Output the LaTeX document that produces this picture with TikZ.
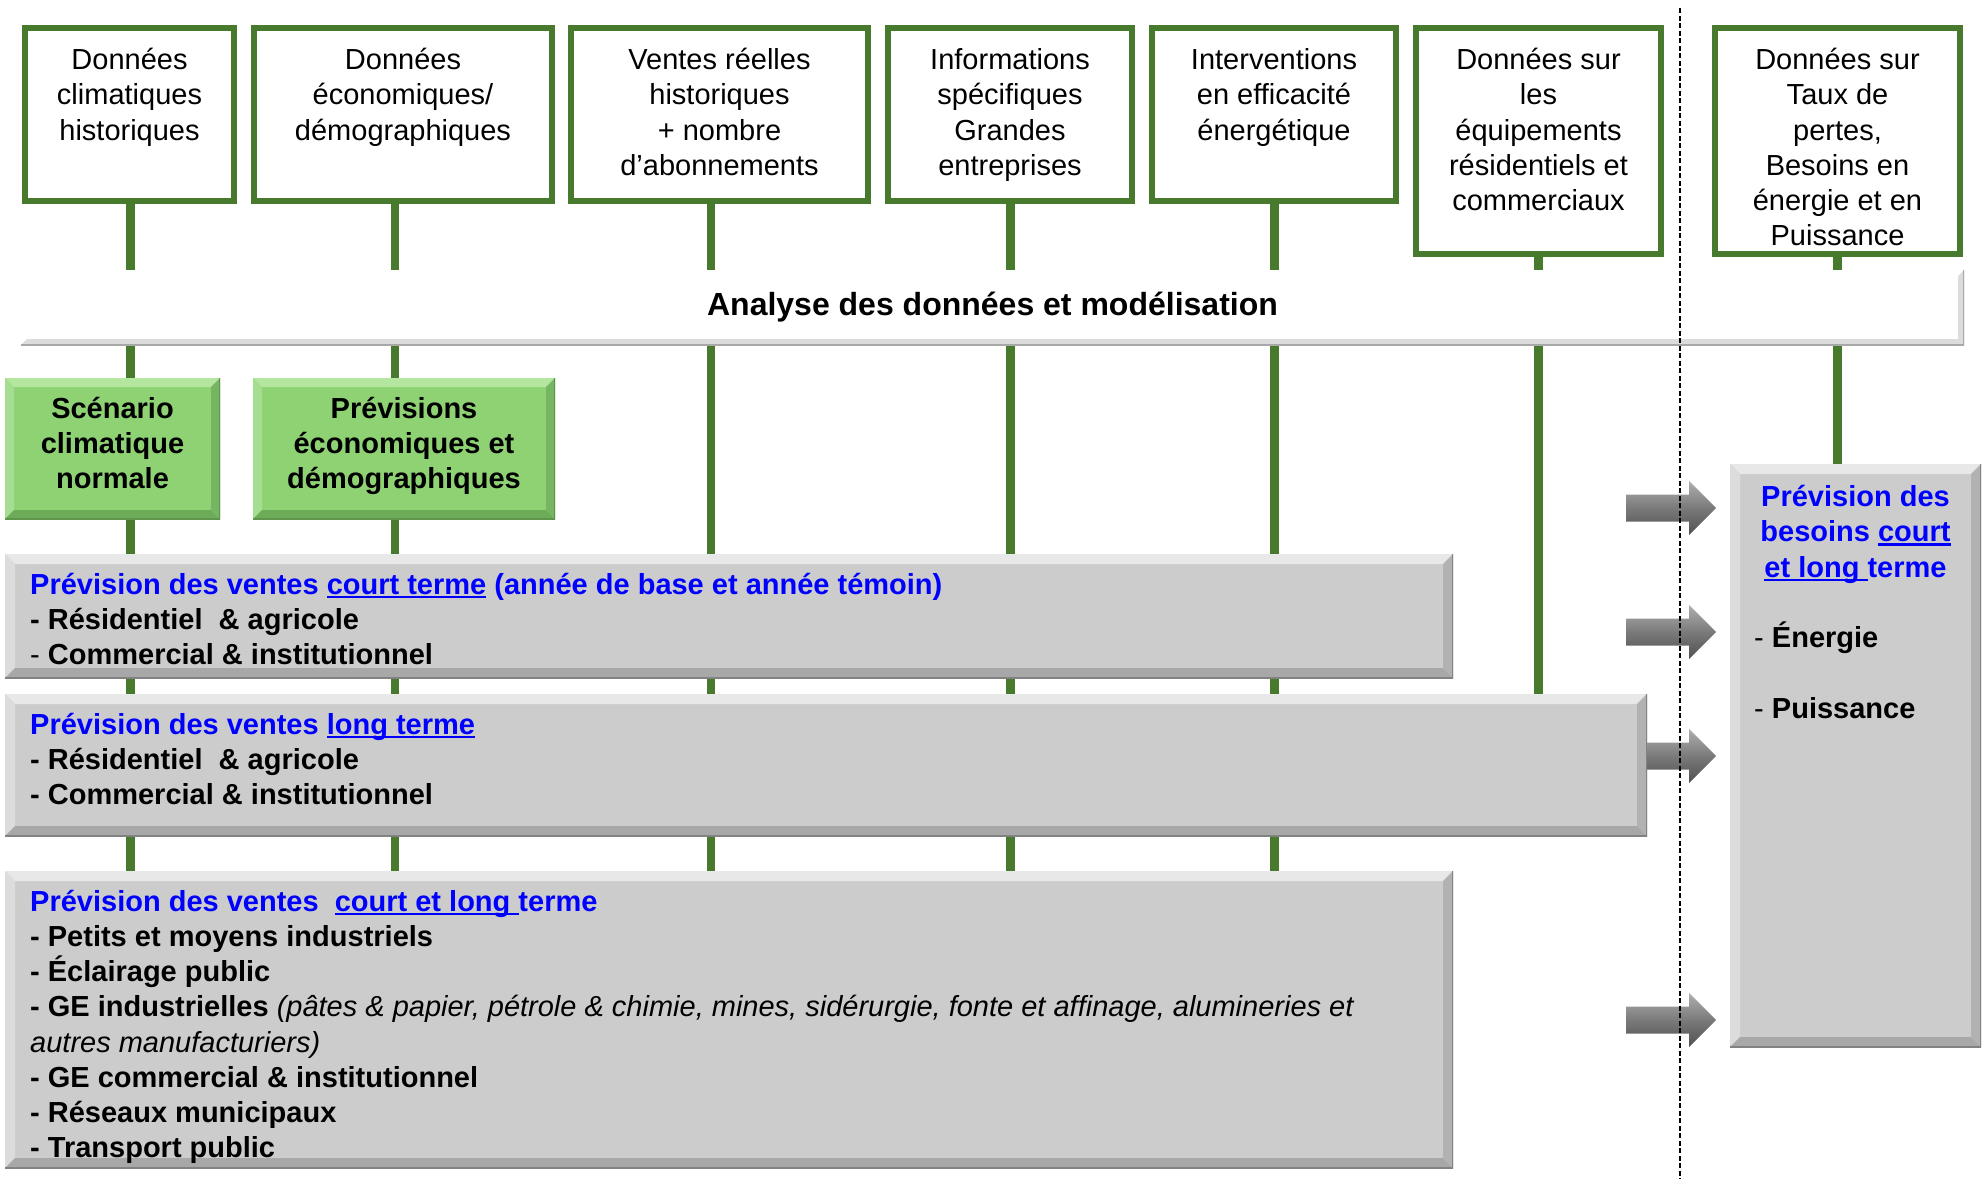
\documentclass[tikz,border=0pt]{standalone}
\usepackage{fontspec}
\setmainfont{Liberation Sans}
\usetikzlibrary{calc,backgrounds}
\definecolor{dgreen}{RGB}{72,122,46}
\definecolor{lgreen}{RGB}{142,210,116}
\definecolor{lgreenT}{RGB}{180,230,160}
\definecolor{lgreenL}{RGB}{165,222,145}
\definecolor{lgreenB}{RGB}{108,172,88}
\definecolor{lgreenR}{RGB}{118,182,98}
\definecolor{lgreenE}{RGB}{95,150,75}
\definecolor{boxgray}{RGB}{204,204,204}
\definecolor{bgT}{RGB}{232,232,232}
\definecolor{bgL}{RGB}{220,220,220}
\definecolor{bgB}{RGB}{168,168,168}
\definecolor{bgR}{RGB}{178,178,178}
\definecolor{bgE}{RGB}{130,130,130}
\definecolor{arrtop}{RGB}{175,175,175}
\definecolor{arrmid}{RGB}{122,122,122}
\definecolor{arrbot}{RGB}{80,80,80}
\newcommand\myul[1]{\setbox0\hbox{#1}\rlap{\rule[-4.2pt]{\wd0}{2.8pt}}\box0\relax}
\newcommand\fsz{\fontsize{29pt}{35.2pt}\selectfont}
\newcommand\fl{\rule{0pt}{28pt}}
\newcommand\bevelpaint[6]{%
  \coordinate (bvnw) at (path picture bounding box.north west);
  \coordinate (bvne) at (path picture bounding box.north east);
  \coordinate (bvsw) at (path picture bounding box.south west);
  \coordinate (bvse) at (path picture bounding box.south east);
  \fill[#1] (bvnw) -- (bvne) -- ($(bvne)+(-#5,-#5)$) -- ($(bvnw)+(#5,-#5)$) -- cycle;
  \fill[#2] (bvnw) -- ($(bvnw)+(#5,-#5)$) -- ($(bvsw)+(#5,#5)$) -- (bvsw) -- cycle;
  \fill[#3] (bvsw) -- ($(bvsw)+(#5,#5)$) -- ($(bvse)+(-#5,#5)$) -- (bvse) -- cycle;
  \fill[#4] (bvse) -- ($(bvse)+(-#5,#5)$) -- ($(bvne)+(-#5,-#5)$) -- (bvne) -- cycle;
  \draw[#6, line width=3pt] (bvsw) -- (bvse) -- (bvne);
}
\newcommand\grayarrow[2]{%
  \shade[arrowshade] ($(#1)+(0,-13.5)$) -- ($(#2)+(-27,-13.5)$) -- ($(#2)+(-27,-27)$) -- (#2)
    -- ($(#2)+(-27,27)$) -- ($(#2)+(-27,13.5)$) -- ($(#1)+(0,13.5)$) -- cycle;
}
\tikzset{
  topbox/.style={draw=dgreen, line width=6pt, fill=white, inner sep=0pt, outer sep=0pt, anchor=north west},
  graybox/.style={fill=boxgray, inner sep=0pt, outer sep=0pt, anchor=north west,
    path picture={\bevelpaint{bgT}{bgL}{bgB}{bgR}{10pt}{bgE}}},
  greenbox/.style={fill=lgreen, inner sep=0pt, outer sep=0pt, anchor=north west,
    path picture={\bevelpaint{lgreenT}{lgreenL}{lgreenB}{lgreenR}{9pt}{lgreenE}}},
  barbox/.style={fill=white, inner sep=0pt, outer sep=0pt, anchor=north west,
    path picture={\bevelpaint{white}{white}{bgL}{bgL}{6pt}{bgB}}},
  gline/.style={dgreen, line width=8.5pt},
  ttext/.style={font=\fsz, align=center, anchor=north, inner sep=0pt},
  btext/.style={font=\fsz\bfseries, align=center, anchor=north, inner sep=0pt},
  ltext/.style={font=\fsz\bfseries, align=left, anchor=north west, inner sep=0pt},
  arrowshade/.style={top color=arrtop, bottom color=arrbot, middle color=arrmid},
  dashline/.style={black, line width=1.8pt, dash pattern=on 5pt off 2.5pt},
}
\begin{document}
\begin{tikzpicture}[x=1pt, y=-1pt]
\useasboundingbox (0,0) rectangle (1983,1179);
% top input boxes
\node[topbox, minimum width=209pt, minimum height=173pt] (t1) at (25,28) {};
\node[topbox, minimum width=298pt, minimum height=173pt] (t2) at (254,28) {};
\node[topbox, minimum width=297pt, minimum height=173pt] (t3) at (571,28) {};
\node[topbox, minimum width=244pt, minimum height=173pt] (t4) at (888,28) {};
\node[topbox, minimum width=244pt, minimum height=173pt] (t5) at (1152,28) {};
\node[topbox, minimum width=245pt, minimum height=226pt] (t6) at (1416,28) {};
\node[topbox, minimum width=245pt, minimum height=226pt] (t7) at (1715,28) {};
\node[ttext] (t1txt) at (t1.north |- 0,41.5) {\fl Données\\climatiques\\historiques};
\node[ttext] (t2txt) at (t2.north |- 0,41.5) {\fl Données\\économiques/\\démographiques};
\node[ttext] (t3txt) at (t3.north |- 0,41.5) {\fl Ventes réelles\\historiques\\+ nombre\\d’abonnements};
\node[ttext] (t4txt) at (t4.north |- 0,41.5) {\fl Informations\\spécifiques\\Grandes\\entreprises};
\node[ttext] (t5txt) at (t5.north |- 0,41.5) {\fl Interventions\\en efficacité\\énergétique};
\node[ttext] (t6txt) at (t6.north |- 0,41.5) {\fl Données sur\\les\\équipements\\résidentiels et\\commerciaux};
\node[ttext] (t7txt) at (t7.north |- 0,41.5) {\fl Données sur\\Taux de\\pertes,\\Besoins en\\énergie et en\\Puissance};
% analysis bar
\node[barbox, minimum width=1943pt, minimum height=75pt] (bar) at (21,270) {};
\node[font=\fontsize{32pt}{38pt}\selectfont\bfseries, anchor=base, inner sep=0pt] (bartxt) at (bar.center |- 0,315) {Analyse des données et modélisation};
% green scenario boxes
\node[greenbox, minimum width=215pt, minimum height=141pt] (S) at (5,378) {};
\node[greenbox, minimum width=302pt, minimum height=141pt] (P) at (253,378) {};
\node[btext] (Stxt) at (S.north |- 0,390) {\fl Scénario\\climatique\\normale};
\node[btext] (Ptxt) at (P.north |- 0,390) {\fl Prévisions\\économiques et\\démographiques};
% gray forecast boxes
\node[graybox, minimum width=1448pt, minimum height=124pt] (A) at (5,554) {};
\node[graybox, minimum width=1642pt, minimum height=142pt] (B) at (5,694) {};
\node[graybox, minimum width=1448pt, minimum height=297pt] (C) at (5,871) {};
\node[graybox, minimum width=251pt, minimum height=583pt] (R) at (1730,464) {};
\node[ltext] (Atxt) at (30,566) {\fl{\color{blue}Prévision des ventes \myul{court terme} (année de base et année témoin)}\\
- Résidentiel\ \ \& agricole\\
{\mdseries -} Commercial \& institutionnel};
\node[ltext] (Btxt) at (30,706) {\fl{\color{blue}Prévision des ventes \myul{long terme}}\\
- Résidentiel\ \ \& agricole\\
- Commercial \& institutionnel};
\node[ltext] (Ctxt) at (30,883) {\fl{\color{blue}Prévision des ventes\ \ \myul{court et long\ }terme}\\
- Petits et moyens industriels\\
- Éclairage public\\
- GE industrielles {\mdseries\itshape (pâtes \& papier, pétrole \& chimie, mines, sidérurgie, fonte et affinage, alumineries et}\\
{\mdseries\itshape autres manufacturiers)}\\
- GE commercial \& institutionnel\\
- Réseaux municipaux\\
- Transport public};
\node[btext, text=blue] (Rtitle) at (R.north |- 0,478.5) {\fl Prévision des\\besoins \myul{court}\\\myul{et long\ }terme};
\node[ltext, anchor=base west] (Re) at (1754,647.7) {{\mdseries -} Énergie};
\node[ltext, anchor=base west] (Rp) at (1754,718.3) {{\mdseries -} Puissance};
% green connectors behind
\coordinate (L1) at (130.5,0);
\coordinate (L2) at (395,0);
\coordinate (L3) at (711,0);
\coordinate (L4) at (1010.5,0);
\coordinate (L5) at (1274.5,0);
\begin{scope}[on background layer]
\draw[gline] (L1 |- t1.south) -- (L1 |- C.north);
\draw[gline] (L2 |- t2.south) -- (L2 |- C.north);
\draw[gline] (L3 |- t3.south) -- (L3 |- C.north);
\draw[gline] (L4 |- t4.south) -- (L4 |- C.north);
\draw[gline] (L5 |- t5.south) -- (L5 |- C.north);
\draw[gline] (t6.south) -- (t6.south |- B.north);
\draw[gline] (t7.south) -- (t7.south |- R.north);
\end{scope}
% gray arrows
\coordinate (a1s) at (1626,508);  \coordinate (a1t) at (1716,508);
\coordinate (a2s) at (1626,632);  \coordinate (a2t) at (1716,632);
\coordinate (a3t) at (1716,756);  \coordinate (a3s) at (B.east |- a3t);
\coordinate (a4s) at (1626,1020); \coordinate (a4t) at (1716,1020);
\grayarrow{a1s}{a1t}
\grayarrow{a2s}{a2t}
\grayarrow{a3s}{a3t}
\grayarrow{a4s}{a4t}
% dashed separator
\coordinate (dtop) at (1680,8);
\coordinate (dbot) at (1680,1179);
\draw[dashline] (dtop) -- (dbot);
\end{tikzpicture}
\end{document}
